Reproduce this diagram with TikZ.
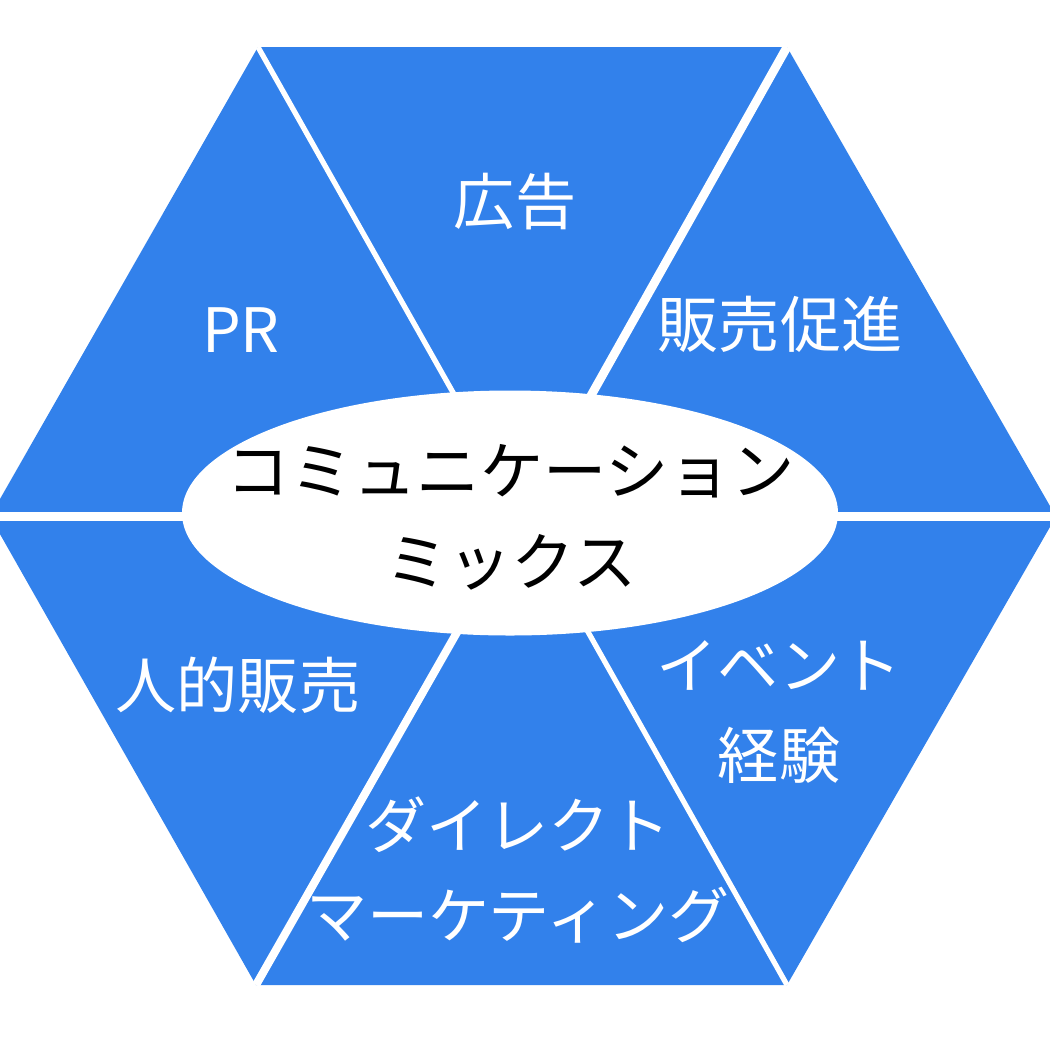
\documentclass[tikz,border=0pt]{standalone}
\usepackage{fontspec}
\setmainfont{Noto Sans CJK JP}
\usepackage{tikz}
\usetikzlibrary{shapes.geometric}
\definecolor{mixblue}{RGB}{50,129,235}

\begin{document}
\begin{tikzpicture}
            \tikzstyle{part}=[text=white,align=center,inner sep=0pt,font=\fontsize{17.4pt}{25.6pt}\selectfont]
            \tikzstyle{gap}=[draw=white]
            \tikzstyle{core}=[ellipse,fill=white,minimum width=6.56cm,minimum height=2.45cm,inner sep=0pt]
                    \clip (0,0) rectangle (10.5,-10.5);

                    \coordinate (C) at (5.23,-5.165);
                    \coordinate (V-0) at (2.58,-0.47);
                    \coordinate (V-1) at (7.87,-0.47);
                    \coordinate (V-2) at (10.56,-5.165);
                    \coordinate (V-3) at (7.87,-9.85);
                    \coordinate (V-4) at (2.56,-9.85);
                    \coordinate (V-5) at (-0.10,-5.165);

                    \fill[mixblue] (V-0) -- (V-1) -- (V-2) -- (V-3) -- (V-4) -- (V-5) -- cycle;

                \foreach \to/\w in {0/1.5, 1/2.5, 2/2.4, 3/1.5, 4/2.3, 5/2.4}
                    \draw[gap,line width=\w pt] (C) -- (V-\to);

                    \node[core] (mix) at (5.10,-5.13) {};
                    \node[align=center,inner sep=0pt,font=\fontsize{18pt}{25.8pt}\selectfont] (mixtext) at (5.11,-5.17) {コミュニケーション\\ミックス};

                    \node[part] (ad) at (5.15,-2.02) {広告};
                    \node[part] (pr) at (2.41,-3.30) {PR};
                    \node[part] (promo) at (7.80,-3.24) {販売促進};
                    \node[part] (sales) at (2.38,-6.85) {人的販売};
                    \node[part] (event) at (7.79,-7.12) {イベント\\経験};
                    \node[part] (direct) at (5.18,-8.70) {ダイレクト\\マーケティング};
        \end{tikzpicture}
\end{document}
